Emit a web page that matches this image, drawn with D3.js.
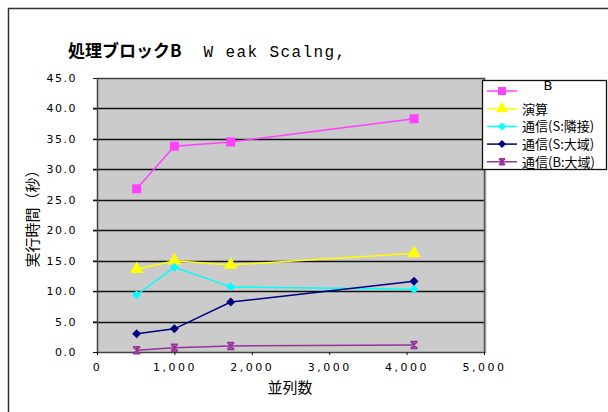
<!DOCTYPE html>
<html>
<head>
<meta charset="utf-8">
<script src="https://cdn.jsdelivr.net/npm/d3@7"></script>
<style>
  body { margin: 0; background: #fff; }
  text { font-family: "DejaVu Sans", "Noto Sans CJK JP", sans-serif; }
  .jp { font-family: "Noto Sans CJK JP", sans-serif; }
</style>
</head>
<body>
<div id="chart"></div>
<script>
// 並列数
const procs = [512, 1000, 1728, 4096];
const seriesNames = ["", "演算", "通信(S:隣接)", "通信(S:大域)", "通信(B:大域)"];
const totalB = [26.8, 33.8, 34.5, 38.3];
const calc = [13.6, 15.0, 14.3, 16.2];
const commNeighbor = [9.4, 13.9, 10.7, 10.3];
const commGlobalS = [3.0, 3.8, 8.2, 11.6];
const commGlobalB = [0.3, 0.7, 1.0, 1.15];
const yTicks = [0, 5, 10, 15, 20, 25, 30, 35, 40, 45];
const xTicks = [0, 1000, 2000, 3000, 4000, 5000];

const series = [
  { name: seriesNames[0], values: totalB, color: "#ff40ff", marker: "square" },
  { name: seriesNames[1], values: calc, color: "#ffff00", marker: "triangle" },
  { name: seriesNames[2], values: commNeighbor, color: "#00ffff", marker: "diamond" },
  { name: seriesNames[3], values: commGlobalS, color: "#000080", marker: "diamond" },
  { name: seriesNames[4], values: commGlobalB, color: "#993399", marker: "star" }
];

const W = 608, H = 412;
const svg = d3.select("#chart").append("svg")
  .attr("width", W).attr("height", H);

// chart area border
svg.append("rect")
  .attr("x", 8.5).attr("y", 8.5)
  .attr("width", 640).attr("height", 450)
  .attr("fill", "#fff").attr("stroke", "#333").attr("stroke-width", 1.5);

const plot = { left: 97, right: 484, top: 78, bottom: 352 };
const x = d3.scaleLinear().domain([0, 5000]).range([plot.left, plot.right]);
const y = d3.scaleLinear().domain([0, 45]).range([plot.bottom, plot.top]);

// title
const title = svg.append("text")
  .attr("x", 68).attr("y", 57)
  .attr("font-size", 17);
title.append("tspan").attr("class", "jp").attr("font-weight", "bold").text("処理ブロックB");
title.append("tspan").attr("dx", 22).attr("font-family", "Liberation Mono, monospace")
  .attr("font-size", 16).attr("letter-spacing", 1.4).text("W eak Scalng,");

// plot background
svg.append("rect")
  .attr("x", plot.left).attr("y", plot.top)
  .attr("width", plot.right - plot.left).attr("height", plot.bottom - plot.top)
  .attr("fill", "#cbcbcb");

// gridlines
svg.append("g").selectAll("line")
  .data(yTicks.filter(d => d > 0 && d < 45))
  .enter().append("line")
  .attr("x1", plot.left - 4).attr("x2", plot.right)
  .attr("y1", d => Math.round(y(d)) + 0.5).attr("y2", d => Math.round(y(d)) + 0.5)
  .attr("stroke", "#111").attr("stroke-width", 1.3);

// plot border
svg.append("rect")
  .attr("x", plot.left + 0.5).attr("y", plot.top + 0.5)
  .attr("width", plot.right - plot.left).attr("height", plot.bottom - plot.top)
  .attr("fill", "none").attr("stroke", "#444").attr("stroke-width", 1.5);
svg.append("line")
  .attr("x1", plot.right + 1.5).attr("x2", plot.right + 1.5)
  .attr("y1", plot.top + 2).attr("y2", plot.bottom + 1)
  .attr("stroke", "#999").attr("stroke-width", 1.5);

// y axis
const yAxis = svg.append("g")
  .attr("transform", `translate(${plot.left},0)`)
  .call(d3.axisLeft(y).tickValues(yTicks).tickSize(4).tickFormat(d3.format(".1f")));
yAxis.select(".domain").remove();
yAxis.selectAll("line").attr("stroke", "#111");
yAxis.selectAll("text")
  .attr("x", -20).attr("font-size", 11).attr("fill", "#000")
  .attr("letter-spacing", 1.5);

// x axis
const xAxis = svg.append("g")
  .attr("transform", `translate(0,${plot.bottom})`)
  .call(d3.axisBottom(x).tickValues(xTicks).tickSize(3).tickFormat(d3.format(",")));
xAxis.select(".domain").remove();
xAxis.selectAll("line").attr("stroke", "#111");
xAxis.selectAll("text")
  .attr("y", 11).attr("font-size", 11).attr("fill", "#000")
  .attr("letter-spacing", 2.5);

// axis titles
svg.append("text").attr("class", "jp")
  .attr("transform", `translate(38,${(plot.top + plot.bottom) / 2}) rotate(-90)`)
  .attr("text-anchor", "middle").attr("font-size", 15)
  .text("実行時間（秒）");
svg.append("text").attr("class", "jp")
  .attr("x", 290).attr("y", 393)
  .attr("text-anchor", "middle").attr("font-size", 15)
  .text("並列数");

function drawMarker(g, type, color, size) {
  if (type === "square") {
    g.append("rect").attr("x", -size / 2).attr("y", -size / 2)
      .attr("width", size).attr("height", size).attr("fill", color);
  } else if (type === "triangle") {
    g.append("path").attr("d", d3.symbol(d3.symbolTriangle, size * size * 0.55)())
      .attr("fill", color);
  } else if (type === "diamond") {
    const s = size / 2;
    g.append("path").attr("d", `M0,${-s}L${s},0L0,${s}L${-s},0Z`).attr("fill", color);
  } else if (type === "star") {
    const s = size / 2;
    g.append("path")
      .attr("d", `M${-s},${-s}L${s},${s}M${-s},${s}L${s},${-s}M0,${-s}L0,${s}M${-s},${-s}L${s},${-s}M${-s},${s}L${s},${s}`)
      .attr("stroke", color).attr("stroke-width", 1.5).attr("fill", "none");
  }
}

const line = d3.line().x(d => x(d[0])).y(d => y(d[1]));

series.forEach(s => {
  const pts = procs.map((p, i) => [p, s.values[i]]);
  svg.append("path")
    .datum(pts)
    .attr("d", line)
    .attr("fill", "none")
    .attr("stroke", s.color)
    .attr("stroke-width", 1.5);
  pts.forEach(p => {
    const g = svg.append("g").attr("transform", `translate(${x(p[0])},${y(p[1])})`);
    drawMarker(g, s.marker, s.color, s.marker === "star" ? 7 : (s.marker === "triangle" ? 12 : 9));
  });
});

// legend
const lg = svg.append("g");
lg.append("rect")
  .attr("x", 482.5).attr("y", 80.5).attr("width", 124).attr("height", 89)
  .attr("fill", "#fff").attr("stroke", "#111").attr("stroke-width", 1.3);
lg.append("text").attr("x", 548).attr("y", 90)
  .attr("text-anchor", "middle").attr("font-size", 13).text("B");
series.forEach((s, i) => {
  const ly = 91 + i * 17.7;
  lg.append("line")
    .attr("x1", 487).attr("x2", 517).attr("y1", ly).attr("y2", ly)
    .attr("stroke", s.color).attr("stroke-width", 1.5);
  const g = lg.append("g").attr("transform", `translate(502,${ly})`);
  drawMarker(g, s.marker, s.color, s.marker === "star" ? 6 : (s.marker === "triangle" ? 11 : 8));
  lg.append("text").attr("class", "jp")
    .attr("x", 522).attr("y", ly + 5)
    .attr("font-size", 13).text(s.name);
});
</script>
</body>
</html>
